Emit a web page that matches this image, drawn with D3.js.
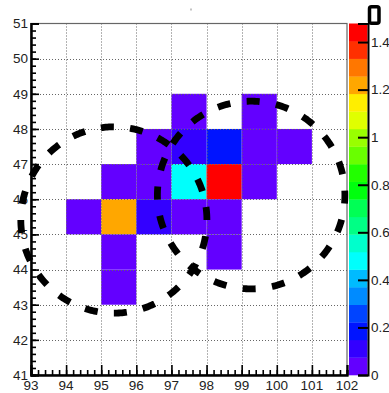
<!DOCTYPE html>
<html>
<head>
<meta charset="utf-8">
<script src="https://cdn.jsdelivr.net/npm/d3@7"></script>
<style>
  html, body { margin: 0; padding: 0; background: #fff; }
  svg { display: block; }
  text { font-family: "Liberation Sans", Arial, sans-serif; fill: #222; }
</style>
</head>
<body>
<script>
// 2D histogram bins: lower-left corner of each filled bin and its content
const binX = [97, 99, 96, 97, 98, 99, 100, 95, 96, 97, 98, 99, 94, 95, 96, 97, 98, 95, 98, 95];
const binY = [48, 48, 47, 47, 47, 47, 47, 46, 46, 46, 46, 46, 45, 45, 45, 45, 45, 44, 44, 43];
const binZ = [0.04, 0.04, 0.04, 0.10, 0.18, 0.04, 0.04, 0.04, 0.04, 0.48, 1.478, 0.04, 0.04, 1.22, 0.10, 0.04, 0.04, 0.04, 0.04, 0.04];

// axis ranges and tick values
const xRange = [93, 102];
const yRange = [41, 51];
const xTicks = [93, 94, 95, 96, 97, 98, 99, 100, 101, 102];
const yTicks = [41, 42, 43, 44, 45, 46, 47, 48, 49, 50, 51];
const zTicks = [0, 0.2, 0.4, 0.6, 0.8, 1, 1.2, 1.4];
const nContours = 20;

// dashed circles: centre (x, y) and radius in axis units
const circleX = [95.36, 99.27];
const circleY = [45.41, 46.12];
const circleR = [2.65, 2.67];

const W = 389, H = 393;
const frame = { left: 31, right: 347, top: 23.5, bottom: 375 };
const bar = { x0: 349, x1: 367.5 };
const dashesPerCircle = 20, dashLen = 13;
const dashPhase = [0, 8.5];

const svg = d3.select("body").append("svg").attr("width", W).attr("height", H);

const x = d3.scaleLinear().domain(xRange).range([frame.left, frame.right]);
const y = d3.scaleLinear().domain(yRange).range([frame.bottom, frame.top]);
const zMax = d3.max(binZ);
const z = d3.scaleLinear().domain([0, zMax]).range([frame.bottom, frame.top]);

// violet -> red spectrum: 50 hues, 20 contour levels mapped onto them
function levelColor(k) {
  const idx = Math.floor((k + 0.99) * 50 / nContours);
  const hue = idx >= 49 ? 0 : 280 - (idx + 1) * 5.6;
  return d3.hsl(hue, 1, 0.5).formatHex();
}
function zColor(v) {
  const k = Math.min(nContours - 1, Math.floor(v / zMax * nContours));
  return levelColor(k);
}

// tiny empty-title dot
svg.append("rect").attr("x", 190).attr("y", 8.5).attr("width", 2).attr("height", 2).attr("fill", "#c4c4c4");

// frame
svg.append("rect")
  .attr("x", frame.left).attr("y", frame.top)
  .attr("width", frame.right - frame.left).attr("height", frame.bottom - frame.top)
  .attr("fill", "#fff").attr("stroke", "#666").attr("stroke-width", 1.2);

// bins
svg.append("g").selectAll("rect")
  .data(binZ.map((v, i) => ({ x: binX[i], y: binY[i], v })))
  .join("rect")
  .attr("x", d => x(d.x))
  .attr("y", d => y(d.y + 1))
  .attr("width", d => x(d.x + 1) - x(d.x))
  .attr("height", d => y(d.y) - y(d.y + 1))
  .attr("fill", d => zColor(d.v));

// dotted grid
const grid = svg.append("g").attr("stroke", "#666").attr("stroke-width", 1).attr("stroke-dasharray", "1 2");
grid.selectAll(".gx").data(xTicks.slice(1, -1)).join("line")
  .attr("x1", d => Math.round(x(d)) + 0.5).attr("x2", d => Math.round(x(d)) + 0.5)
  .attr("y1", frame.top).attr("y2", frame.bottom);
grid.selectAll(".gy").data(yTicks.slice(1, -1)).join("line")
  .attr("y1", d => Math.round(y(d)) + 0.5).attr("y2", d => Math.round(y(d)) + 0.5)
  .attr("x1", frame.left).attr("x2", frame.right);

// axes (ticks pointing into the frame)
const minorX = d3.range(xRange[0], xRange[1] + 1e-9, 0.2);
const minorY = d3.range(yRange[0], yRange[1] + 1e-9, 0.2);

const xAxis = svg.append("g").attr("transform", `translate(0,${frame.bottom})`)
  .call(d3.axisTop(x).tickValues(minorX).tickSize(5).tickFormat(""));
const xAxisMaj = svg.append("g").attr("transform", `translate(0,${frame.bottom})`)
  .call(d3.axisTop(x).tickValues(xTicks).tickSize(10).tickFormat(""));
const yAxis = svg.append("g").attr("transform", `translate(${frame.left},0)`)
  .call(d3.axisRight(y).tickValues(minorY).tickSize(5).tickFormat(""));
const yAxisMaj = svg.append("g").attr("transform", `translate(${frame.left},0)`)
  .call(d3.axisRight(y).tickValues(yTicks).tickSize(8).tickFormat(""));
[xAxis, xAxisMaj, yAxis, yAxisMaj].forEach(g => {
  g.selectAll(".domain").attr("stroke", "#000").attr("stroke-width", 2);
  g.selectAll(".tick line").attr("stroke", "#000").attr("stroke-width", 1.6);
});

// tick labels
svg.append("g").selectAll("text").data(xTicks).join("text")
  .attr("x", d => x(d)).attr("y", 390)
  .attr("text-anchor", "middle").attr("font-size", 13.5)
  .text(d => d);
svg.append("g").selectAll("text").data(yTicks).join("text")
  .attr("x", 28).attr("y", d => y(d) + 4.8)
  .attr("text-anchor", "end").attr("font-size", 13.5)
  .text(d => d);

// dashed circles, traced counter-clockwise from their rightmost point
const circLine = d3.line().x(d => x(d[0])).y(d => y(d[1]));
circleX.forEach((cx, i) => {
  const pts = d3.range(0, 361).map(a => {
    const t = a * Math.PI / 180;
    return [cx + circleR[i] * Math.cos(t), circleY[i] + circleR[i] * Math.sin(t)];
  });
  const path = svg.append("path").attr("d", circLine(pts))
    .attr("fill", "none").attr("stroke", "#000").attr("stroke-width", 6.8);
  const period = path.node().getTotalLength() / dashesPerCircle;
  path.attr("stroke-dasharray", `${dashLen} ${period - dashLen}`)
    .attr("stroke-dashoffset", dashPhase[i]);
});

// colour palette bar
const levels = d3.range(nContours);
svg.append("g").selectAll("rect").data(levels).join("rect")
  .attr("x", bar.x0).attr("width", bar.x1 - bar.x0)
  .attr("y", k => z((k + 1) * zMax / nContours))
  .attr("height", k => z(k * zMax / nContours) - z((k + 1) * zMax / nContours) + 0.3)
  .attr("fill", k => levelColor(k));

const zAxis = svg.append("g").attr("transform", `translate(${bar.x1 + 0.5},0)`)
  .call(d3.axisLeft(z).tickValues(zTicks).tickSize(10).tickFormat(""));
zAxis.selectAll(".domain").attr("stroke", "#000").attr("stroke-width", 2);
zAxis.selectAll(".tick line").attr("stroke", "#000").attr("stroke-width", 2);

svg.append("g").selectAll("text").data(zTicks).join("text")
  .attr("x", bar.x1 + 3.5).attr("y", d => z(d) + 4.8)
  .attr("font-size", 13.5)
  .text(d => d3.format("~g")(d));

// small box capping the palette axis
svg.append("rect").attr("x", 369.5).attr("y", 6.8).attr("width", 9.5).attr("height", 16.5)
  .attr("rx", 2).attr("fill", "#fff").attr("stroke", "#000").attr("stroke-width", 3.5);
</script>
</body>
</html>
